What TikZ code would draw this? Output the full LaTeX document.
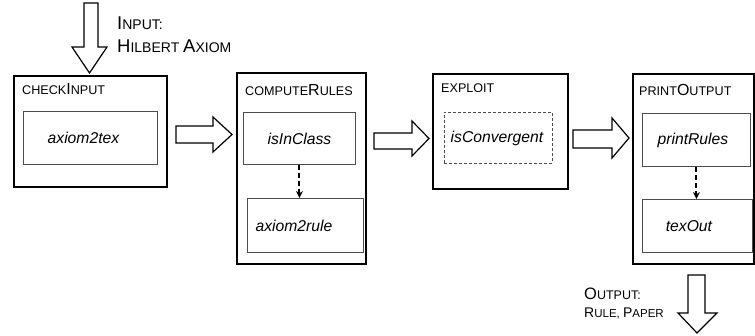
\documentclass[tikz,border=0pt]{standalone}
\usepackage{fontspec}
\setmainfont{Liberation Sans}
\usetikzlibrary{arrows.meta}
\newcommand{\bigc}[1]{{\fontsize{16}{16}\selectfont #1}}
\newcommand{\lbl}{\fontsize{12.6}{12.6}\selectfont}
\newcommand{\iobig}[1]{{\fontsize{18.5}{18.5}\selectfont #1}}
\newcommand{\iolbl}{\fontsize{14}{14}\selectfont}
\begin{document}
\begin{tikzpicture}[x=1pt,y=-1pt,
  outerbox/.style={draw, line width=2.2pt, anchor=north west, inner sep=0pt},
  innerbox/.style={draw=black!70, line width=0.9pt, anchor=north west, inner sep=0pt,
    font=\fontsize{15.7}{15.7}\selectfont\itshape},
  dinnerbox/.style={innerbox, dash pattern=on 3pt off 2pt},
  blk/.style={draw, line width=1.2pt, fill=white, line join=miter},
  darr/.style={line width=2pt, dash pattern=on 5pt off 3pt, -{Stealth[length=7pt,width=7pt]}},
  boxlabel/.style={anchor=west, inner sep=0pt, font=\lbl},
  iotext/.style={anchor=west, inner sep=0pt, font=\iolbl}
]
\useasboundingbox (0,0) rectangle (755,335);

% outer boxes
\node[outerbox, minimum width=153pt, minimum height=111pt] (ci) at (13,75) {};
\node[outerbox, minimum width=129pt, minimum height=191pt] (cr) at (236,72) {};
\node[outerbox, minimum width=135pt, minimum height=115pt] (ex) at (432,73) {};
\node[outerbox, minimum width=121pt, minimum height=190pt] (po) at (632,73) {};

% box labels
\node[boxlabel] (ciL) at (22,89) {CHECK\bigc{I}NPUT};
\node[boxlabel] (crL) at (245,90) {COMPUTE\bigc{R}ULES};
\node[boxlabel] (exL) at (441,88) {EXPLOIT};
\node[boxlabel] (poL) at (639,90) {PRINT\bigc{O}UTPUT};

% inner boxes
\node[innerbox, minimum width=134pt, minimum height=53pt] (a2t) at (23,111) {axiom2tex\kern14pt};
\node[innerbox, minimum width=112pt, minimum height=52pt] (iic) at (243,112) {isInClass};
\node[innerbox, minimum width=116pt, minimum height=54pt] (a2r) at (247,198) {axiom2rule\kern23pt};
\node[dinnerbox, minimum width=108pt, minimum height=51pt] (icv) at (444,112) {isConvergent\kern3pt};
\node[innerbox, minimum width=108pt, minimum height=53pt] (pr) at (642,113) {printRules\kern7pt};
\node[innerbox, minimum width=110pt, minimum height=53pt] (to) at (642,199) {texOut\kern17pt};

% dashed arrows
\draw[darr] (iic.south) -- (iic.south |- a2r.north);
\draw[darr] (pr.south) -- (pr.south |- to.north);

% block arrows between boxes
\coordinate (b1) at (176,134.5);
\draw[blk] (b1) ++(0,-8.5) -- ++(37,0) -- ++(0,-9) -- (232,134.5) -- (213,152) -- ++(0,-9) -- ++(-37,0) -- cycle;
\coordinate (b2) at (374,141);
\draw[blk] (b2) ++(0,-8) -- ++(38,0) -- ++(0,-12) -- (429,138.5) -- (412,156) -- ++(0,-7) -- ++(-38,0) -- cycle;
\coordinate (b3) at (573,139);
\draw[blk] (b3) ++(0,-9) -- ++(39,0) -- ++(0,-12) -- (629,138) -- (612,158) -- ++(0,-10) -- ++(-39,0) -- cycle;

% input arrow
\draw[blk] (84,3) -- (98,3) -- (98,47) -- (107,47) -- (89.5,73) -- (72,47) -- (84,47) -- cycle;
\node[iotext] (inT1) at (117,23) {\iobig{I}NPUT:};
\node[iotext] (inT2) at (117,46) {\iobig{H}ILBERT \iobig{A}XIOM};

% output arrow
\draw[blk] (688,275) -- (705,275) -- (705,313) -- (717,313) -- (697,333) -- (678,313) -- (688,313) -- cycle;
\node[anchor=west, inner sep=0pt, font=\fontsize{12.5}{12.5}\selectfont] (outT1) at (584,294) {{\fontsize{16.5}{16.5}\selectfont O}UTPUT:};
\node[anchor=west, inner sep=0pt, font=\fontsize{11.5}{11.5}\selectfont] (outT2) at (584,313) {{\fontsize{14}{14}\selectfont R}ULE, {\fontsize{14}{14}\selectfont P}APER};
\end{tikzpicture}
\end{document}
